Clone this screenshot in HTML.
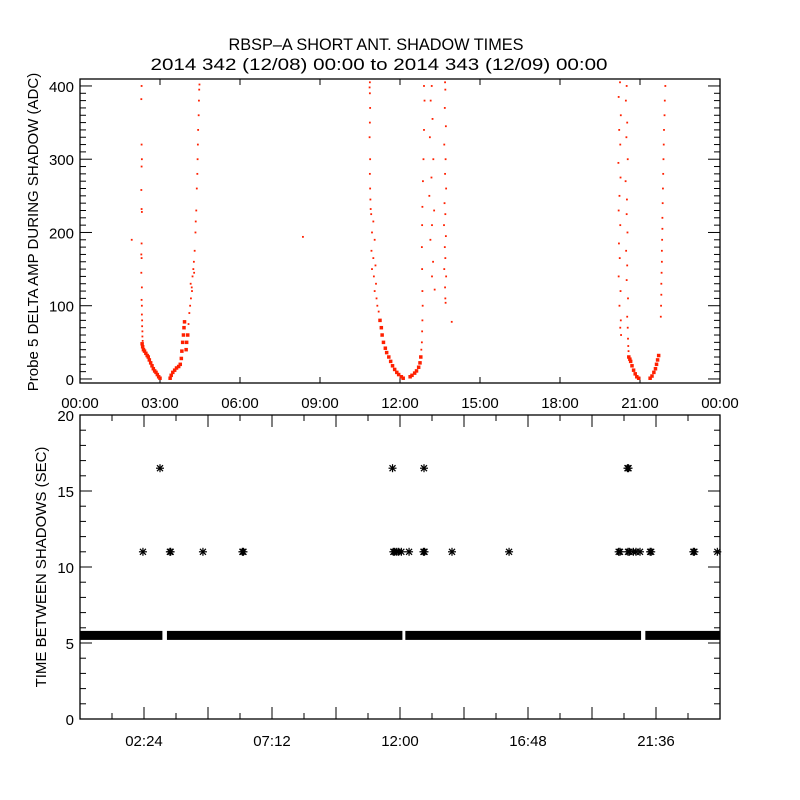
<!DOCTYPE html>
<html><head><meta charset="utf-8"><style>
html,body{margin:0;padding:0;background:#fff;}
svg{display:block;font-family:"Liberation Sans",sans-serif;}
</style></head><body>
<svg id="chart" width="800" height="800" viewBox="0 0 800 800" xmlns="http://www.w3.org/2000/svg">
<rect width="800" height="800" fill="#fff"/>
<text x="376" y="50" font-size="17" text-anchor="middle" textLength="295" lengthAdjust="spacingAndGlyphs">RBSP–A SHORT ANT. SHADOW TIMES</text>
<text x="379" y="70" font-size="17" text-anchor="middle" textLength="457" lengthAdjust="spacingAndGlyphs">2014 342 (12/08) 00:00 to 2014 343 (12/09) 00:00</text>
<g id="topPanel"></g>
<g id="botPanel"></g>
</svg>
<script>
// ---- Top panel data: [hour, delta amp ADC] ----
const pass1Left = [[2.31,400],[2.30,382],[2.31,320],[2.32,300],[2.31,290],[2.30,258],[2.31,232],[2.32,228],[2.31,185],[2.30,170],[2.31,165],[2.30,145],[2.32,125],[2.31,108],[2.32,100],[2.32,88],[2.33,80],[2.33,72],[2.34,65],[2.34,58],[2.35,52]];
const pass1Bottom = [[2.33,48],[2.35,44],[2.38,40],[2.42,38],[2.47,35],[2.52,32],[2.56,30],[2.6,26],[2.65,22],[2.7,18],[2.75,14],[2.8,11],[2.85,9],[2.9,6],[2.95,3],[3.0,1],[3.38,1],[3.42,5],[3.48,9],[3.55,12],[3.62,15],[3.7,17],[3.76,20],[3.8,28],[3.82,38],[3.85,50],[3.88,60],[3.9,70],[3.92,78],[3.98,40],[4.0,50],[4.04,60]];
const pass1Right = [[4.07,75],[4.1,90],[4.13,100],[4.16,110],[4.19,125],[4.22,140],[4.25,150],[4.27,160],[4.3,175],[4.33,200],[4.34,215],[4.36,230],[4.38,260],[4.4,280],[4.41,300],[4.42,320],[4.43,340],[4.45,360],[4.46,380],[4.47,395],[4.48,402],[4.15,130],[4.2,120],[4.28,145]];
const strays = [[1.94,190],[8.36,194],[13.94,78]];
const pass2Left = [[10.87,405],[10.86,398],[10.87,390],[10.88,370],[10.87,350],[10.86,330],[10.88,300],[10.87,280],[10.88,260],[10.89,245],[10.9,232],[10.92,225],[11.0,215],[10.95,200],[11.05,190],[10.93,175],[11.0,165],[11.08,155],[10.95,150],[11.02,140],[11.1,130],[11.05,120],[11.12,110],[11.15,100],[11.2,92]];
const pass2Bottom = [[11.25,80],[11.3,70],[11.33,60],[11.38,50],[11.45,42],[11.5,36],[11.58,30],[11.65,24],[11.72,18],[11.8,13],[11.88,9],[11.95,6],[12.05,3],[12.12,1],[12.38,3],[12.45,5],[12.55,8],[12.62,11],[12.7,16],[12.75,22],[12.78,30]];
const pass2Right = [[12.8,40],[12.82,50],[12.83,65],[12.84,80],[12.85,100],[12.84,120],[12.83,150],[12.82,180],[12.83,210],[12.84,235],[12.86,270],[12.88,300],[12.9,340],[12.92,380],[12.9,400]];
const pass2ArmB = [[13.19,400],[13.15,380],[13.22,355],[13.12,330],[13.25,300],[13.18,275],[13.1,250],[13.28,230],[13.2,210],[13.14,190],[13.24,160],[13.2,140],[13.3,122]];
const pass2ArmC = [[13.69,405],[13.7,395],[13.68,370],[13.72,345],[13.66,320],[13.71,300],[13.69,280],[13.73,260],[13.67,240],[13.7,225],[13.65,210],[13.72,195],[13.68,180],[13.7,165],[13.66,150],[13.73,140],[13.69,125],[13.7,110],[13.71,104]];
const pass3ArmA = [[20.25,405],[20.2,385],[20.28,360],[20.22,340],[20.26,320],[20.19,295],[20.27,275],[20.23,250],[20.2,230],[20.26,210],[20.21,185],[20.24,165],[20.2,140],[20.27,120],[20.23,100],[20.28,80],[20.26,70],[20.29,60]];
const pass3ArmB = [[20.5,400],[20.47,380],[20.52,350],[20.49,330],[20.54,300],[20.46,270],[20.51,245],[20.5,225],[20.53,200],[20.48,175],[20.52,155],[20.5,135],[20.55,110],[20.52,85],[20.54,70],[20.55,55],[20.56,45],[20.57,38]];
const pass3Bottom = [[20.58,30],[20.62,27],[20.65,24],[20.7,18],[20.76,12],[20.82,7],[20.88,3],[20.95,1],[21.38,1],[21.45,4],[21.52,9],[21.58,14],[21.62,20],[21.66,26],[21.7,32]];
const pass3ArmC = [[21.78,85],[21.79,100],[21.8,115],[21.8,130],[21.81,145],[21.82,160],[21.82,175],[21.83,190],[21.84,205],[21.84,220],[21.85,240],[21.86,260],[21.87,280],[21.88,300],[21.89,320],[21.9,340],[21.92,360],[21.93,380],[21.95,400]];
const topYTicks = [0,100,200,300,400];
const topXTickLabels = ["00:00","03:00","06:00","09:00","12:00","15:00","18:00","21:00","00:00"];

// ---- Bottom panel data ----
const bandValue = 5.5;
const bandSegments = [[0,3.09],[3.26,12.09],[12.2,21.04],[21.2,24]];
const gapTimes = [2.36,3.37,3.4,4.61,6.09,6.13,11.75,11.8,11.88,11.95,12.05,12.34,12.88,12.92,13.95,16.09,20.2,20.25,20.55,20.6,20.75,20.85,21.0,21.38,21.42,23.0,23.04,23.9];
const gapValues = [11,11,11,11,11,11,11,11,11,11,11,11,11,11,11,11,11,11,11,11,11,11,11,11,11,11,11,11];
const bigGapTimes = [3.0,11.72,12.9,20.53,20.57];
const bigGapValues = [16.5,16.5,16.5,16.5,16.5];
const botYTicks = [0,5,10,15,20];
const botXTickLabels = ["02:24","07:12","12:00","16:48","21:36"];

const NS="http://www.w3.org/2000/svg";
function mk(tag, attrs, parent){const e=document.createElementNS(NS,tag);for(const k in attrs)e.setAttribute(k,attrs[k]);parent.appendChild(e);return e;}
const L=80,R=720;
const xS=h=>L+(R-L)*h/24;
const T1=79,B1=383,yMin1=-5.5,yMax1=409.5;
const yS1=v=>B1-(v-yMin1)/(yMax1-yMin1)*(B1-T1);
const T2=415,B2=719;
const yS2=v=>B2-v/20*(B2-T2);

const topG=document.getElementById('topPanel');
const botG=document.getElementById('botPanel');

let f=mk('rect',{x:L,y:T1,width:R-L,height:B1-T1,fill:'none',stroke:'#000','stroke-width':1.3},topG);


for(let v=0;v<=400;v+=10){
  const y=yS1(v),len=(v%100===0)?12:6;
  mk('line',{x1:L,x2:L+len,y1:y,y2:y,stroke:'#000'},topG);
  mk('line',{x1:R,x2:R-len,y1:y,y2:y,stroke:'#000'},topG);
}
topYTicks.forEach(v=>{
  const t=mk('text',{x:L-6,y:yS1(v)+6,'font-size':15,'text-anchor':'end'},topG);
  t.textContent=v;
  
  
});
topXTickLabels.forEach((s,i)=>{
  const x=xS(i*3);
  mk('line',{x1:x,x2:x,y1:B1,y2:B1-6,stroke:'#000'},topG);
  mk('line',{x1:x,x2:x,y1:T1,y2:T1+6,stroke:'#000'},topG);
  const t=mk('text',{x:x,y:408,'font-size':15,'text-anchor':'middle'},topG);
  t.textContent=s;
  
  
});
let yl=mk('text',{x:0,y:0,'font-size':15,'text-anchor':'middle',transform:'translate(38,232) rotate(-90)'},topG);
yl.textContent='Probe 5 DELTA AMP DURING SHADOW (ADC)';



const allTop=[pass1Left,pass1Bottom,pass1Right,strays,pass2Left,pass2Bottom,pass2Right,pass2ArmB,pass2ArmC,pass3ArmA,pass3ArmB,pass3Bottom,pass3ArmC];
const denseSets=[pass1Bottom,pass2Bottom,pass3Bottom];
allTop.forEach(arr=>{
  const dense=denseSets.includes(arr);
  arr.forEach(p=>{
    const sz=dense?3.5:1.8;
    const r=mk('rect',{x:xS(p[0])-sz/2,y:yS1(p[1])-sz/2,width:sz,height:sz,fill:'#ff2000'},topG);
    
    
  });
});

f=mk('rect',{x:L,y:T2,width:R-L,height:B2-T2,fill:'none',stroke:'#000','stroke-width':1.3},botG);


for(let v=0;v<=20;v++){
  const y=yS2(v),len=(v%5===0)?12:6;
  mk('line',{x1:L,x2:L+len,y1:y,y2:y,stroke:'#000'},botG);
  mk('line',{x1:R,x2:R-len,y1:y,y2:y,stroke:'#000'},botG);
}
botYTicks.forEach(v=>{
  const t=mk('text',{x:L-6,y:yS2(v)+6,'font-size':15,'text-anchor':'end'},botG);
  t.textContent=v;
  
  
});
for(let k=1;k<20;k++){
  const x=xS(k*1.2),len=(k%2===0)?12:6;
  mk('line',{x1:x,x2:x,y1:B2,y2:B2-len,stroke:'#000'},botG);
  mk('line',{x1:x,x2:x,y1:T2,y2:T2+len,stroke:'#000'},botG);
}
botXTickLabels.forEach((s,i)=>{
  const t=mk('text',{x:xS(2.4+i*4.8),y:746,'font-size':15,'text-anchor':'middle'},botG);
  t.textContent=s;
  
  
});
yl=mk('text',{x:0,y:0,'font-size':15,'text-anchor':'middle',transform:'translate(46,567) rotate(-90)'},botG);
yl.textContent='TIME BETWEEN SHADOWS (SEC)';



bandSegments.forEach(s=>{
  const r=mk('rect',{x:xS(s[0]),y:yS2(bandValue)-4.5,width:xS(s[1])-xS(s[0]),height:9,fill:'#000'},botG);
  
  
});
function star(h,v){
  const cx=xS(h),cy=yS2(v),s=4;
  const g=mk('g',{stroke:'#000','stroke-width':1.2},botG);
  
  
  mk('line',{x1:cx-s,x2:cx+s,y1:cy,y2:cy},g);
  mk('line',{x1:cx,x2:cx,y1:cy-s,y2:cy+s},g);
  mk('line',{x1:cx-3,x2:cx+3,y1:cy-3,y2:cy+3},g);
  mk('line',{x1:cx-3,x2:cx+3,y1:cy+3,y2:cy-3},g);
}
gapTimes.forEach((h,i)=>star(h,gapValues[i]));
bigGapTimes.forEach((h,i)=>star(h,bigGapValues[i]));
</script>
</body></html>
